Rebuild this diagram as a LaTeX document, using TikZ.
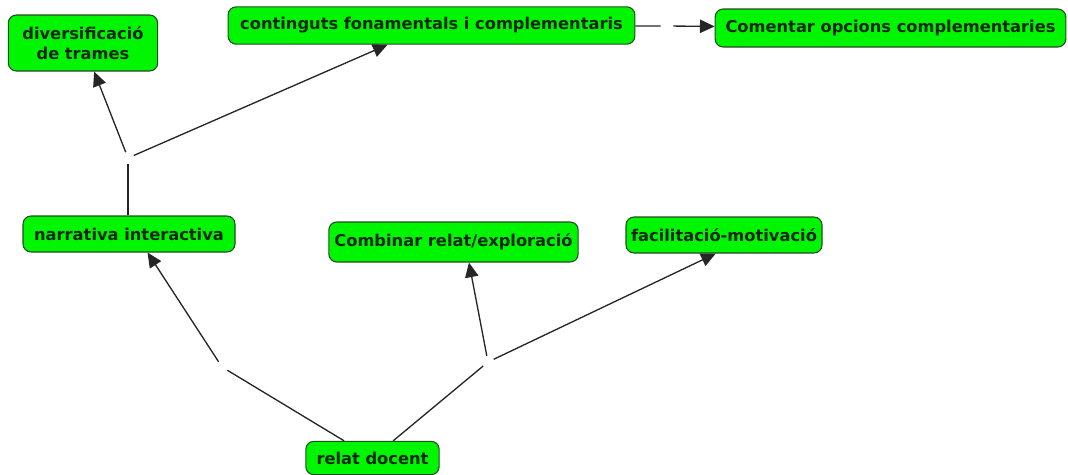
\documentclass[tikz,border=0pt]{standalone}
\usepackage{fontspec}
\setmainfont{DejaVu Sans}
\usetikzlibrary{positioning,arrows.meta}
\definecolor{cmapgreen}{RGB}{0,245,0}
\definecolor{cmapedge}{RGB}{35,75,35}
\definecolor{cmaptext}{RGB}{12,40,12}

\begin{document}
\begin{tikzpicture}[
    x=0.75pt, y=-0.75pt,
    font=\fontsize{12.2}{15}\selectfont\bfseries,
    concept/.style={draw=cmapedge, fill=cmapgreen, text=cmaptext, rounded corners=6pt, align=center, inner sep=2pt, line width=0.8pt},
    link/.style={circle, inner sep=0pt, minimum size=9pt},
    conn/.style={draw=black!85, line width=1pt},
    arr/.style={conn, -{Triangle[length=11pt, width=10pt]}}
  ]
    \useasboundingbox (0,0) rectangle (1068,475);
    % concepts
    \node[concept, minimum width=112pt, minimum height=42pt] (div) at (83,43) {diversificació\\de trames};
    \node[concept, minimum width=305pt, minimum height=28pt] (cont) at (431.5,25.5) {continguts fonamentals i complementaris};
    \node[concept, minimum width=263pt, minimum height=28.5pt] (com) at (890.5,28) {Comentar opcions complementaries};
    \node[concept, minimum width=159pt, minimum height=27pt] (narr) at (129,234) {narrativa interactiva};
    \node[concept, minimum width=187pt, minimum height=30pt] (comb) at (453.5,242) {Combinar relat/exploració};
    \node[concept, minimum width=147pt, minimum height=27pt] (fac) at (724,235) {facilitació-motivació};
    \node[concept, minimum width=100pt, minimum height=25pt] (rel) at (372.5,458) {relat docent};
    % empty linking phrases
    \node[link] (l1) at (128,158) {};
    \node[link] (l2) at (222,367) {};
    \node[link] (l3) at (488,362) {};
    \node[link] (l4) at (667,26) {};
    % connectors
    \draw[conn] (narr.north -| l1) -- (l1);
    \draw[arr] (l1) -- (div);
    \draw[arr] (l1) -- (cont);
    \draw[conn] (cont) -- (l4);
    \draw[arr] (l4) -- (com);
    \draw[conn] (rel) -- (l2);
    \draw[arr] (l2) -- (narr.-45);
    \draw[conn] (rel) -- (l3);
    \draw[arr] (l3) -- (comb.-53);
    \draw[arr] (l3) -- (fac.-114);
  \end{tikzpicture}
\end{document}
